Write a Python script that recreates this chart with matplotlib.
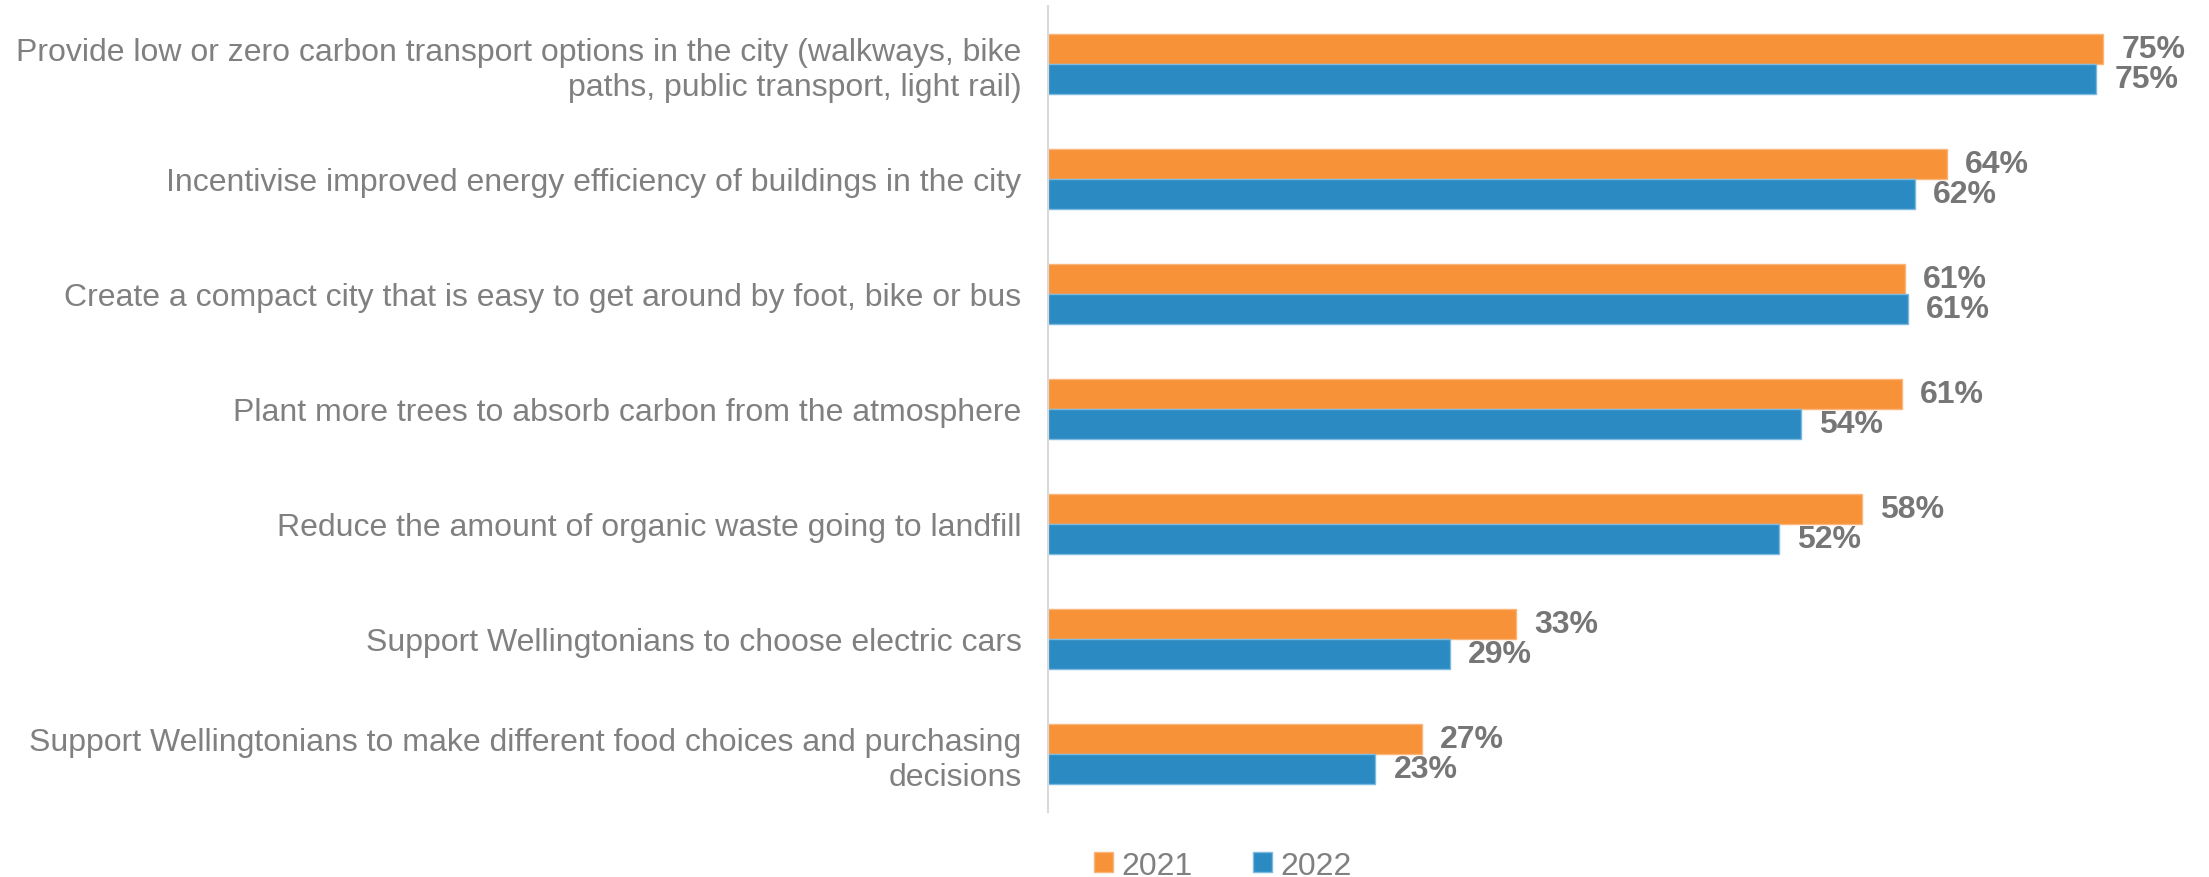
import matplotlib.pyplot as plt
import numpy as np

plt.rcParams['font.family'] = ['Liberation Sans', 'DejaVu Sans']

categories = [
    "Provide low or zero carbon transport options in the city (walkways, bike\npaths, public transport, light rail)",
    "Incentivise improved energy efficiency of buildings in the city",
    "Create a compact city that is easy to get around by foot, bike or bus",
    "Plant more trees to absorb carbon from the atmosphere",
    "Reduce the amount of organic waste going to landfill",
    "Support Wellingtonians to choose electric cars",
    "Support Wellingtonians to make different food choices and purchasing\ndecisions",
]
values_2021 = [75.1, 64.0, 61.0, 60.8, 57.9, 33.3, 26.6]
values_2022 = [74.6, 61.7, 61.2, 53.6, 52.0, 28.6, 23.3]

orange = '#F79239'
blue = '#2A8AC1'
label_grey = '#767676'
text_grey = '#808080'

fig = plt.figure(figsize=(22.09, 8.78), dpi=100)
ax = fig.add_axes([0.4744, 0.0746, 0.5216, 0.9169])

y = np.arange(len(categories))
h = 0.26
b1 = ax.barh(y - h / 2, values_2021, height=h, color=orange, label='2021',
             edgecolor='#FBB57A', linewidth=1)
b2 = ax.barh(y + h / 2, values_2022, height=h, color=blue, label='2022',
             edgecolor='#7DB9DE', linewidth=1)

for bars in (b1, b2):
    ax.bar_label(bars, labels=[f'{v:.0f}%' for v in bars.datavalues], padding=13,
                 fontsize=23, fontweight='bold', color=label_grey)

ax.set_xlim(0, 82)
ax.set_ylim(len(categories) - 0.5, -0.5)
ax.set_yticks(y)
ax.set_yticklabels(categories, fontsize=23, color=text_grey)
ax.tick_params(axis='y', length=0, pad=19)
ax.set_xticks([])
for s in ('top', 'right', 'bottom'):
    ax.spines[s].set_visible(False)
ax.spines['left'].set_color('#D9D9D9')
ax.spines['left'].set_linewidth(1.5)

fig.legend(handles=[b1, b2], loc='center', bbox_to_anchor=(0.5536, 0.013), ncol=2,
           frameon=False, fontsize=23, labelcolor=text_grey, handlelength=0.6,
           handleheight=0.6, handletextpad=0.25, columnspacing=1.9)

fig.savefig('out.png', dpi=100)
